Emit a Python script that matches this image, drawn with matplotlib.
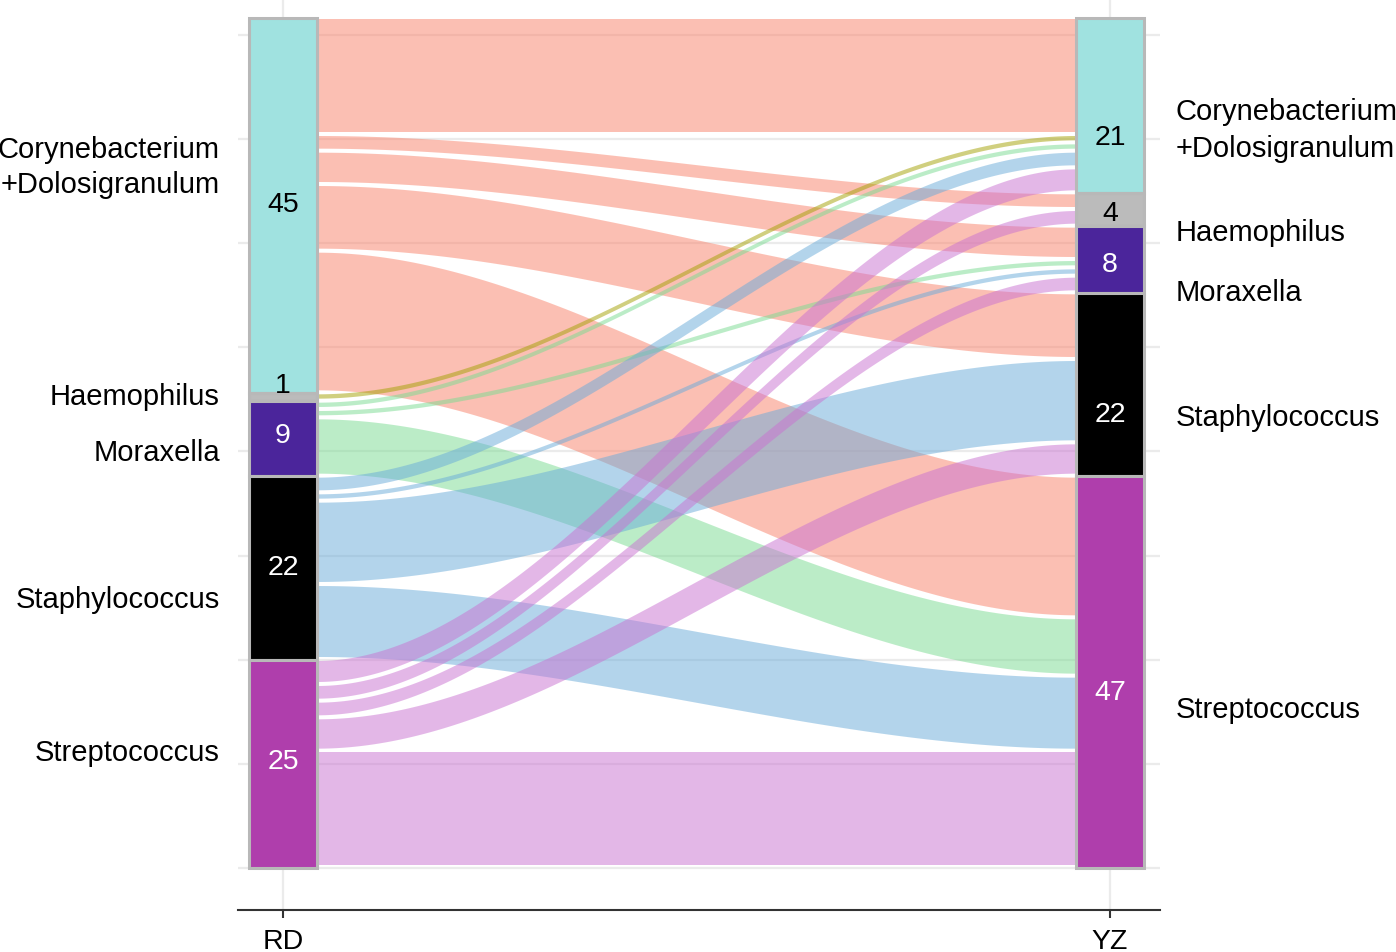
import numpy as np
import matplotlib.pyplot as plt
from matplotlib.patches import Rectangle

plt.rcParams['font.family'] = ['Liberation Sans', 'DejaVu Sans']

# data
categories = ["Corynebacterium\n+Dolosigranulum", "Haemophilus", "Moraxella",
              "Staphylococcus", "Streptococcus"]
axis_names = ["RD", "YZ"]
# flows[source on RD][destination on YZ]
flows = np.array([
    [14, 2, 4, 8, 17],
    [1, 0, 0, 0, 0],
    [1, 0, 1, 0, 7],
    [2, 0, 1, 10, 9],
    [3, 2, 2, 4, 14],
])

# styling / layout
flow_colors = ["#F98169", "#A3A000", "#79DB91", "#69ABD9", "#C971D1"]
stratum_colors = ["#A0E2E0", "#BBBBBB", "#4B259B", "#000000", "#AF3EAC"]
count_colors = ["black", "black", "white", "white", "white"]
left_label_y = [84.2, 56.6, 49.9, 32.3, 13.9]
right_label_y = [88.6, 76.3, 69.1, 54.1, 19.1]
left_count_y = [79.7, 58.0, 52.0, 36.1, 12.8]
right_count_y = [87.7, 78.6, 72.5, 54.5, 21.1]

left_tot = flows.sum(axis=1)
right_tot = flows.sum(axis=0)


def stack_tops(totals):
    # top of each stratum, first category at top
    total = totals.sum()
    return total - np.concatenate([[0], np.cumsum(totals)[:-1]])


left_tops = stack_tops(left_tot)
right_tops = stack_tops(right_tot)

fig = plt.figure(figsize=(13.96, 9.53), dpi=100)
ax = fig.add_axes([238 / 1396, 42 / 953, 922 / 1396, 911 / 953])
ax.set_xlim(0.9456, 2.0605)
ax.set_ylim(-5.04, 104.28)

w = 0.082
x0, x1 = 1 + w / 2, 2 - w / 2
xs = np.linspace(x0, x1, 200)
t = (xs - x0) / (x1 - x0)
s = t * t * (3 - 2 * t)

gap_top, gap_bot = 0.1, 0.38

# position of each flow inside its source and destination strata
src_pos = {}
for i in range(5):
    cur = left_tops[i]
    for j in range(5):
        if flows[i, j] > 0:
            src_pos[(i, j)] = cur
            cur -= flows[i, j]
dst_pos = {}
for j in range(5):
    cur = right_tops[j]
    for i in range(5):
        if flows[i, j] > 0:
            dst_pos[(i, j)] = cur
            cur -= flows[i, j]

for i in range(5):
    for j in range(5):
        v = flows[i, j]
        if v == 0:
            continue
        a_top = src_pos[(i, j)]
        b_top = dst_pos[(i, j)]
        top = a_top + (b_top - a_top) * s - gap_top
        bot = (a_top - v) + (b_top - a_top) * s + gap_bot
        ax.fill_between(xs, bot, top, color=flow_colors[i], alpha=0.5, lw=0, zorder=2)

for xc, tops, tots, cy in [(1, left_tops, left_tot, left_count_y),
                           (2, right_tops, right_tot, right_count_y)]:
    for k in range(5):
        ax.add_patch(Rectangle((xc - w / 2, tops[k] - tots[k]), w, tots[k],
                               facecolor=stratum_colors[k], edgecolor="#B8B8B8",
                               lw=2.2, zorder=3))
        ax.text(xc, cy[k], str(tots[k]), ha="center", va="center", fontsize=20.5,
                color=count_colors[k], zorder=4)

for k in range(5):
    ax.text(0.9238, left_label_y[k], categories[k], ha="right", va="center",
            ma="right", fontsize=21, clip_on=False, linespacing=1.3)
    ax.text(2.0798, right_label_y[k], categories[k], ha="left", va="center",
            ma="left", fontsize=21, clip_on=False, linespacing=1.4)

ax.set_xticks([1, 2])
ax.set_xticklabels(axis_names, fontsize=20.5)
ax.set_yticks([0, 25, 50, 75, 100])
ax.set_yticks([12.5, 37.5, 62.5, 87.5], minor=True)
ax.tick_params(axis="y", which="both", length=0, labelleft=False)
ax.tick_params(axis="x", length=6, width=1.5, color="#333333", pad=7)
ax.grid(True, which="both", axis="y", color="#EBEBEB", lw=1.6)
ax.grid(True, which="major", axis="x", color="#EBEBEB", lw=1.6)
ax.set_axisbelow(True)
for sp in ["top", "left", "right"]:
    ax.spines[sp].set_visible(False)
ax.spines["bottom"].set_color("#333333")
ax.spines["bottom"].set_linewidth(1.5)

fig.savefig("out.png", dpi=100)
